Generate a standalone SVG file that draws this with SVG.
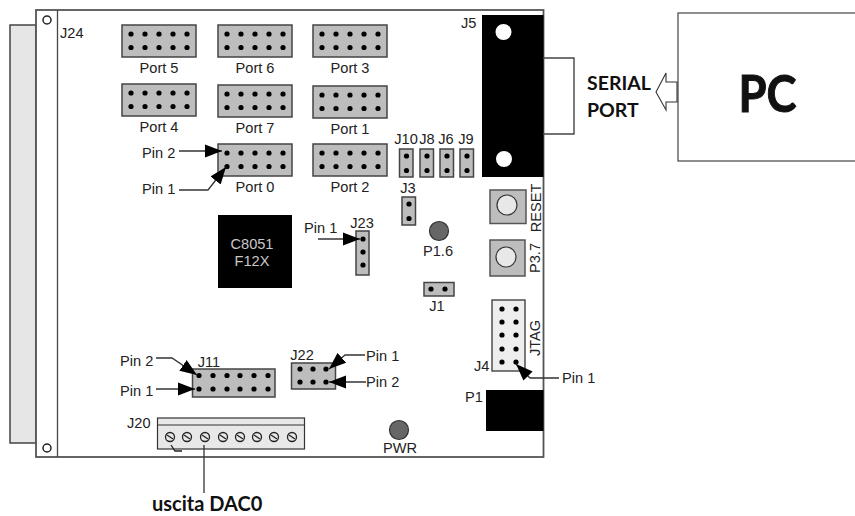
<svg xmlns="http://www.w3.org/2000/svg" xmlns:xlink="http://www.w3.org/1999/xlink" width="855" height="516" viewBox="0 0 855 516">
<style>
text{font-family:"Liberation Sans",Arial,sans-serif;font-size:14.600px;fill:#222}
.m{text-anchor:middle}
.b{font-family:Lato,"Open Sans",sans-serif;font-weight:700;fill:#111}
.h{fill:#bdbdbd;stroke:#444;stroke-width:1.5}
.l{fill:none;stroke:#333;stroke-width:1.3}
.d{fill:#000}
.bk{fill:#000}
.s{fill:#e8e8e8;stroke:#333;stroke-width:1.2}
.w{fill:#fff}
</style>
<defs>
<marker id="a" markerUnits="userSpaceOnUse" markerWidth="18" markerHeight="14" refX="17" refY="7" orient="auto"><path d="M0 0.500L17 7L0 13.500Z" fill="#000"/></marker>
<g id="c10"><rect class="h" x="0" y="0" width="74" height="32"/>
<g class="d"><circle cx="9" cy="9" r="2.600"/><circle cx="23" cy="9" r="2.600"/><circle cx="37" cy="9" r="2.600"/><circle cx="51" cy="9" r="2.600"/><circle cx="65" cy="9" r="2.600"/><circle cx="9" cy="22.500" r="2.600"/><circle cx="23" cy="22.500" r="2.600"/><circle cx="37" cy="22.500" r="2.600"/><circle cx="51" cy="22.500" r="2.600"/><circle cx="65" cy="22.500" r="2.600"/></g></g>
<g id="v2"><rect class="h" x="0" y="0" width="13.500" height="28"/><circle class="d" cx="7" cy="7" r="2.600"/><circle class="d" cx="7" cy="21.500" r="2.600"/></g>
<g id="sc"><circle cx="0" cy="0" r="4.500" fill="#e8e8e8" stroke="#222" stroke-width="1.3"/><path d="M-3 -2L3 2" stroke="#222" stroke-width="1.3"/></g>
</defs>
<rect width="855" height="516" fill="#fff"/>
<g id="board">
<rect x="10" y="25" width="26" height="418" fill="#e6e6e6" stroke="#444" stroke-width="1.5"/>
<rect x="36" y="10" width="507.500" height="447" fill="#fff" stroke="#555" stroke-width="1.8"/>
<path d="M57.500 10V457" stroke="#444" stroke-width="1.3"/>
<circle cx="47" cy="20" r="4" fill="#fff" stroke="#222" stroke-width="1.500"/>
<circle cx="47" cy="448" r="4" fill="#fff" stroke="#222" stroke-width="1.500"/>
<text x="60" y="38">J24</text>
</g>
<g id="port5"><use xlink:href="#c10" x="122" y="25"/><text class="m" x="159" y="73">Port 5</text></g>
<g id="port6"><use xlink:href="#c10" x="218" y="25"/><text class="m" x="255" y="73">Port 6</text></g>
<g id="port3"><use xlink:href="#c10" x="313" y="25"/><text class="m" x="350" y="73">Port 3</text></g>
<g id="port4"><use xlink:href="#c10" x="122" y="84"/><text class="m" x="159" y="132">Port 4</text></g>
<g id="port7"><use xlink:href="#c10" x="218" y="85"/><text class="m" x="255" y="133">Port 7</text></g>
<g id="port1"><use xlink:href="#c10" x="313" y="86"/><text class="m" x="350" y="134">Port 1</text></g>
<g id="port0"><use xlink:href="#c10" x="218" y="144"/><text class="m" x="255" y="192">Port 0</text></g>
<g id="port2"><use xlink:href="#c10" x="313" y="144"/><text class="m" x="350" y="192">Port 2</text></g>
<g id="j10"><use xlink:href="#v2" x="399.500" y="149"/><text class="m" x="406" y="144">J10</text></g>
<g id="j8"><use xlink:href="#v2" x="420" y="149"/><text class="m" x="427" y="144">J8</text></g>
<g id="j6"><use xlink:href="#v2" x="440" y="149"/><text class="m" x="446" y="144">J6</text></g>
<g id="j9"><use xlink:href="#v2" x="460" y="149"/><text class="m" x="466" y="144">J9</text></g>
<g id="j3"><use xlink:href="#v2" x="402" y="197"/><text class="m" x="408" y="193">J3</text></g>
<g id="j5"><rect class="bk" x="482" y="15" width="61.500" height="162"/><circle class="w" cx="503.500" cy="32" r="8"/><circle class="w" cx="504" cy="159" r="8"/><path d="M543 58H574V134H543" fill="none" stroke="#444" stroke-width="1.4"/><text x="461" y="28">J5</text></g>
<g id="reset"><rect x="490" y="190" width="36" height="33.500" fill="#bdbdbd" stroke="#555" stroke-width="1.5"/><circle cx="507" cy="205" r="10" fill="#e8e8e8" stroke="#333" stroke-width="1.200"/><text class="m" transform="translate(541 208) rotate(-90)">RESET</text></g>
<g id="p37"><rect x="490" y="240" width="35" height="36" fill="#bdbdbd" stroke="#555" stroke-width="1.5"/><circle cx="506" cy="257" r="10" fill="#e8e8e8" stroke="#333" stroke-width="1.200"/><text class="m" transform="translate(540 258) rotate(-90)">P3.7</text></g>
<g id="p16"><circle cx="439" cy="231" r="9.500" fill="#666" stroke="#333" stroke-width="1.200"/><text class="m" x="438" y="256">P1.6</text></g>
<g id="chip"><rect class="bk" x="218" y="215" width="74" height="73"/><text class="m" x="252" y="249" style="fill:#c8c8c8">C8051</text><text class="m" x="252" y="266" style="fill:#c8c8c8">F12X</text></g>
<g id="j23"><rect class="h" x="356" y="231" width="13" height="44"/><circle class="d" cx="363" cy="239" r="2.600"/><circle class="d" cx="363" cy="252" r="2.600"/><circle class="d" cx="363" cy="265" r="2.600"/><text class="m" x="362" y="228">J23</text></g>
<g id="j1"><rect class="h" x="424" y="282.500" width="30" height="13.500"/><circle class="d" cx="431" cy="289" r="2.600"/><circle class="d" cx="445" cy="289" r="2.600"/><text class="m" x="437" y="311">J1</text></g>
<g id="j4"><rect x="492" y="300" width="33" height="71" fill="#eee" stroke="#444" stroke-width="1.4"/>
<g class="d"><circle cx="502" cy="309" r="2.600"/><circle cx="516" cy="309" r="2.600"/><circle cx="502" cy="322" r="2.600"/><circle cx="516" cy="322" r="2.600"/><circle cx="502" cy="335" r="2.600"/><circle cx="516" cy="335" r="2.600"/><circle cx="502" cy="349" r="2.600"/><circle cx="516" cy="349" r="2.600"/><circle cx="502" cy="362" r="2.600"/><circle cx="516" cy="362" r="2.600"/></g>
<text x="474" y="371">J4</text><text class="m" transform="translate(540 338) rotate(-90)">JTAG</text></g>
<g id="p1"><rect class="bk" x="486" y="390" width="57.500" height="41"/><text x="465" y="402">P1</text></g>
<g id="pwr"><circle cx="399" cy="430" r="9.500" fill="#666" stroke="#333" stroke-width="1.200"/><text class="m" x="400" y="453">PWR</text></g>
<g id="j22"><rect class="h" x="291.500" y="363" width="44" height="26"/><g class="d"><circle cx="300" cy="369" r="2.600"/><circle cx="313" cy="369" r="2.600"/><circle cx="326" cy="369" r="2.600"/><circle cx="300" cy="382" r="2.600"/><circle cx="313" cy="382" r="2.600"/><circle cx="326" cy="382" r="2.600"/></g><text class="m" x="302" y="360">J22</text></g>
<g id="j11"><rect class="h" x="192.500" y="369" width="82.500" height="28"/><g class="d"><circle cx="199" cy="375.500" r="2.600"/><circle cx="213" cy="375.500" r="2.600"/><circle cx="227" cy="375.500" r="2.600"/><circle cx="240" cy="375.500" r="2.600"/><circle cx="254" cy="375.500" r="2.600"/><circle cx="268" cy="375.500" r="2.600"/><circle cx="199" cy="389" r="2.600"/><circle cx="213" cy="389" r="2.600"/><circle cx="227" cy="389" r="2.600"/><circle cx="240" cy="389" r="2.600"/><circle cx="254" cy="389" r="2.600"/><circle cx="268" cy="389" r="2.600"/></g><text class="m" x="209" y="367">J11</text></g>
<g id="j20"><rect class="s" x="157.500" y="418" width="147" height="31"/><path d="M157.500 425H304.500" stroke="#333" stroke-width="1.2"/>
<use xlink:href="#sc" x="170" y="437"/><use xlink:href="#sc" x="187" y="437"/><use xlink:href="#sc" x="205" y="437"/><use xlink:href="#sc" x="223" y="437"/><use xlink:href="#sc" x="240" y="437"/><use xlink:href="#sc" x="257" y="437"/><use xlink:href="#sc" x="274" y="437"/><use xlink:href="#sc" x="292" y="437"/>
<path d="M171 445L175 451L182 451" fill="none" stroke="#222" stroke-width="1.300"/>
<text x="127" y="428">J20</text></g>
<g id="pc"><rect x="678" y="13" width="180" height="148" fill="#fff" stroke="#444" stroke-width="1.200"/><text class="b" x="738.500" y="112" textLength="58" lengthAdjust="spacingAndGlyphs" style="font-size:52px;stroke:#111;stroke-width:1">PC</text></g>
<g id="connectors">
<path class="l" marker-end="url(#a)" d="M179 151H222"/>
<path class="l" marker-end="url(#a)" d="M179 190H208L226 167"/>
<path class="l" marker-end="url(#a)" d="M156 358H172L197 375"/>
<path class="l" marker-end="url(#a)" d="M156 389H195"/>
<path class="l" marker-end="url(#a)" d="M365 355H345L329 369"/>
<path class="l" marker-end="url(#a)" d="M366 382H329"/>
<path class="l" marker-end="url(#a)" d="M559 378H530L516 364"/>
<path class="l" marker-end="url(#a)" d="M318 239H360"/>
<path class="l" d="M204 445V493"/>
<path d="M677 82H666V73L656 92L666 110V102H677Z" fill="#fff" stroke="#333" stroke-width="1.100"/>
</g>
<g id="labels">
<text x="142" y="158">Pin 2</text><text x="142" y="194">Pin 1</text>
<text x="120" y="366">Pin 2</text><text x="120" y="396">Pin 1</text>
<text x="366" y="361">Pin 1</text><text x="366" y="387">Pin 2</text>
<text x="562" y="383">Pin 1</text><text x="304" y="233">Pin 1</text>
<text class="b" x="587" y="90" style="font-size:19.500px">SERIAL</text><text class="b" x="587" y="117" style="font-size:19.500px">PORT</text>
<text class="b" x="152" y="511" style="font-size:20px">uscita DAC0</text>
</g>
</svg>
